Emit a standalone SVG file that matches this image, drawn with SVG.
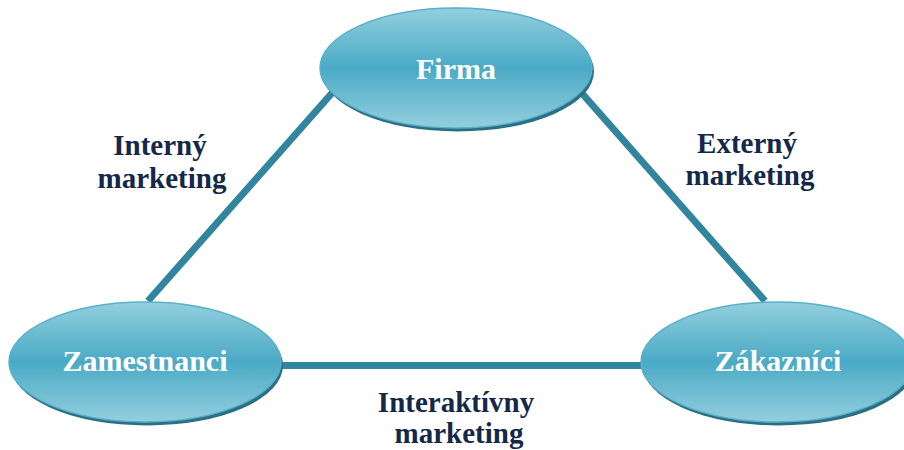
<svg xmlns="http://www.w3.org/2000/svg" width="904" height="450" viewBox="0 0 904 450">
<defs>
<linearGradient id="g" x1="0" y1="0" x2="0" y2="1">
<stop offset="0" stop-color="#93cfde"/>
<stop offset="0.5" stop-color="#4aaac6"/>
<stop offset="1" stop-color="#93cfde"/>
</linearGradient>
<style>
.edge{stroke:#31859c;stroke-width:7;fill:none}
.shadow{fill:#2a6f83}
.body{fill:url(#g);stroke:#58b0c9;stroke-width:1.5}
.nlabel{font-family:"Liberation Serif","Times New Roman",serif;font-weight:bold;font-size:30px;fill:#ffffff;text-anchor:middle}
.elabel{font-family:"Liberation Serif","Times New Roman",serif;font-weight:bold;font-size:29px;fill:#14284a;text-anchor:middle}
</style>
</defs>
<rect width="904" height="450" fill="#ffffff"/>
<g id="connectors">
<line class="edge" x1="340" y1="84" x2="148" y2="301"/>
<line class="edge" x1="572" y1="82" x2="765" y2="301"/>
<line class="edge" x1="270" y1="365.5" x2="655" y2="365.5"/>
</g>
<g id="labels">
<text class="elabel" x="160" y="155">Interný</text>
<text class="elabel" x="162" y="188">marketing</text>
<text class="elabel" x="747" y="153">Externý</text>
<text class="elabel" x="750" y="185">marketing</text>
<text class="elabel" x="456" y="412">Interaktívny</text>
<text class="elabel" x="459" y="443">marketing</text>
</g>
<g id="firma">
<ellipse class="shadow" cx="458" cy="71.5" rx="136" ry="60"/>
<ellipse class="body" cx="456" cy="68" rx="136" ry="60"/>
<text class="nlabel" x="456" y="79">Firma</text>
</g>
<g id="zamestnanci">
<ellipse class="shadow" cx="147" cy="365.5" rx="136" ry="60"/>
<ellipse class="body" cx="145" cy="362" rx="136" ry="60"/>
<text class="nlabel" x="145" y="371">Zamestnanci</text>
</g>
<g id="zakaznici">
<ellipse class="shadow" cx="779" cy="365.5" rx="136" ry="60"/>
<ellipse class="body" cx="777" cy="362" rx="136" ry="60"/>
<text class="nlabel" x="778" y="371">Zákazníci</text>
</g>
</svg>
